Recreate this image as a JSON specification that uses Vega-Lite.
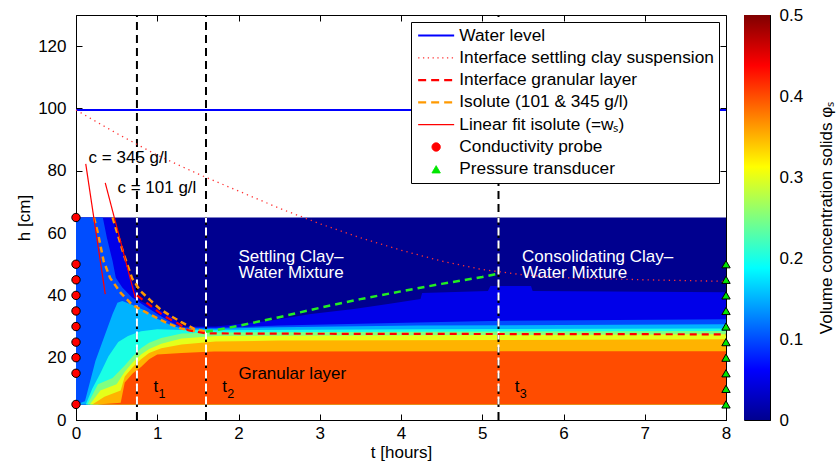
{
  "$schema": "https://vega.github.io/schema/vega-lite/v6.json",
  "background": "white",
  "padding": {"left": 15, "top": 5, "right": 0, "bottom": 0},
  "bounds": "flush",
  "spacing": 18,
  "resolve": {"legend": {"color": "independent", "fill": "independent"}},
  "config": {
    "font": "Liberation Sans",
    "view": {"stroke": "black", "strokeWidth": 1},
    "axis": {
      "grid": false,
      "labelFont": "Liberation Sans",
      "titleFont": "Liberation Sans",
      "labelFontSize": 17,
      "titleFontSize": 17,
      "titleFontWeight": "normal",
      "labelColor": "black",
      "titleColor": "black",
      "tickColor": "black",
      "domainColor": "black",
      "labelFlush": false,
      "labelOverlap": false,
      "labelBound": false
    }
  },
  "datasets": {
    "contours": [
      {"c": 0, "t": 0, "h": 65}, {"c": 0, "t": 8, "h": 65},
      {"c": 0.05, "t": 0, "h": 65}, {"c": 0.05, "t": 0.45, "h": 65}, {"c": 0.05, "t": 0.47, "h": 63},
      {"c": 0.05, "t": 0.58, "h": 53.3}, {"c": 0.05, "t": 0.7, "h": 43.7}, {"c": 0.05, "t": 0.79, "h": 38.2},
      {"c": 0.05, "t": 1.0, "h": 35.6}, {"c": 0.05, "t": 1.16, "h": 33.4}, {"c": 0.05, "t": 1.32, "h": 30.0},
      {"c": 0.05, "t": 1.72, "h": 30.0}, {"c": 0.05, "t": 2.36, "h": 31.8}, {"c": 0.05, "t": 2.89, "h": 34},
      {"c": 0.05, "t": 3.42, "h": 35.6}, {"c": 0.05, "t": 3.84, "h": 37.2}, {"c": 0.05, "t": 4.24, "h": 38.8},
      {"c": 0.05, "t": 4.26, "h": 40.8}, {"c": 0.05, "t": 5.07, "h": 41.4}, {"c": 0.05, "t": 5.1, "h": 43},
      {"c": 0.05, "t": 5.6, "h": 43}, {"c": 0.05, "t": 5.62, "h": 41.4}, {"c": 0.05, "t": 8, "h": 41},
      {"c": 0.1, "t": 0, "h": 65}, {"c": 0.1, "t": 0.33, "h": 65}, {"c": 0.1, "t": 0.38, "h": 58.5},
      {"c": 0.1, "t": 0.45, "h": 51}, {"c": 0.1, "t": 0.49, "h": 45.7}, {"c": 0.1, "t": 0.57, "h": 42.5},
      {"c": 0.1, "t": 0.69, "h": 39.3}, {"c": 0.1, "t": 0.81, "h": 37.2}, {"c": 0.1, "t": 1.0, "h": 34},
      {"c": 0.1, "t": 1.16, "h": 31.5}, {"c": 0.1, "t": 1.3, "h": 29.7}, {"c": 0.1, "t": 1.72, "h": 29.6},
      {"c": 0.1, "t": 2.5, "h": 30.3}, {"c": 0.1, "t": 4.2, "h": 31.3}, {"c": 0.1, "t": 5.1, "h": 31.8},
      {"c": 0.1, "t": 8, "h": 32.3},
      {"c": 0.15, "t": 0, "h": 5}, {"c": 0.15, "t": 0.11, "h": 6}, {"c": 0.15, "t": 0.24, "h": 19},
      {"c": 0.15, "t": 0.36, "h": 27.6}, {"c": 0.15, "t": 0.45, "h": 34}, {"c": 0.15, "t": 0.51, "h": 37.6},
      {"c": 0.15, "t": 0.57, "h": 38.2}, {"c": 0.15, "t": 0.69, "h": 37}, {"c": 0.15, "t": 0.86, "h": 35},
      {"c": 0.15, "t": 1.0, "h": 32.5}, {"c": 0.15, "t": 1.16, "h": 30.5}, {"c": 0.15, "t": 1.3, "h": 29.4},
      {"c": 0.15, "t": 1.72, "h": 29.3}, {"c": 0.15, "t": 2.5, "h": 29.8}, {"c": 0.15, "t": 4.2, "h": 30.3},
      {"c": 0.15, "t": 8, "h": 30.7},
      {"c": 0.2, "t": 0.12, "h": 5}, {"c": 0.2, "t": 0.2, "h": 10}, {"c": 0.2, "t": 0.3, "h": 15},
      {"c": 0.2, "t": 0.4, "h": 20.5}, {"c": 0.2, "t": 0.52, "h": 25}, {"c": 0.2, "t": 0.64, "h": 27},
      {"c": 0.2, "t": 0.8, "h": 28.5}, {"c": 0.2, "t": 1.0, "h": 29.1}, {"c": 0.2, "t": 1.3, "h": 28.9},
      {"c": 0.2, "t": 1.72, "h": 28.8}, {"c": 0.2, "t": 4.2, "h": 29.1}, {"c": 0.2, "t": 8, "h": 29.4},
      {"c": 0.25, "t": 0.14, "h": 5}, {"c": 0.25, "t": 0.27, "h": 11.5}, {"c": 0.25, "t": 0.45, "h": 13.5},
      {"c": 0.25, "t": 0.6, "h": 17.5}, {"c": 0.25, "t": 0.7, "h": 20.5}, {"c": 0.25, "t": 0.8, "h": 23},
      {"c": 0.25, "t": 0.9, "h": 24.8}, {"c": 0.25, "t": 1.05, "h": 26.3}, {"c": 0.25, "t": 1.3, "h": 27.8},
      {"c": 0.25, "t": 1.72, "h": 28.1}, {"c": 0.25, "t": 8, "h": 28.6},
      {"c": 0.3, "t": 0.17, "h": 5}, {"c": 0.3, "t": 0.3, "h": 9.5}, {"c": 0.3, "t": 0.5, "h": 11.5},
      {"c": 0.3, "t": 0.6, "h": 15.5}, {"c": 0.3, "t": 0.7, "h": 18.5}, {"c": 0.3, "t": 0.8, "h": 21},
      {"c": 0.3, "t": 0.9, "h": 22.8}, {"c": 0.3, "t": 1.05, "h": 24.5}, {"c": 0.3, "t": 1.3, "h": 26.2},
      {"c": 0.3, "t": 1.72, "h": 27.0}, {"c": 0.3, "t": 8, "h": 27.5},
      {"c": 0.35, "t": 0.2, "h": 5}, {"c": 0.35, "t": 0.35, "h": 7.5}, {"c": 0.35, "t": 0.55, "h": 9.5},
      {"c": 0.35, "t": 0.6, "h": 14}, {"c": 0.35, "t": 0.7, "h": 17}, {"c": 0.35, "t": 0.8, "h": 19.5},
      {"c": 0.35, "t": 0.9, "h": 21.5}, {"c": 0.35, "t": 1.05, "h": 23}, {"c": 0.35, "t": 1.3, "h": 24.2},
      {"c": 0.35, "t": 1.72, "h": 25.2}, {"c": 0.35, "t": 2.5, "h": 25.5}, {"c": 0.35, "t": 8, "h": 25.9},
      {"c": 0.4, "t": 0.26, "h": 5}, {"c": 0.4, "t": 0.55, "h": 5.5}, {"c": 0.4, "t": 0.6, "h": 12},
      {"c": 0.4, "t": 0.7, "h": 15}, {"c": 0.4, "t": 0.8, "h": 17}, {"c": 0.4, "t": 0.9, "h": 19.5},
      {"c": 0.4, "t": 1.0, "h": 21}, {"c": 0.4, "t": 1.3, "h": 21.5}, {"c": 0.4, "t": 1.7, "h": 22},
      {"c": 0.4, "t": 8, "h": 22.1}
    ],
    "phases": [
      {"t": 0.75, "sub": "1"},
      {"t": 1.6, "sub": "2"},
      {"t": 5.2, "sub": "3"}
    ],
    "water": [
      {"series": "Water level", "t": 0, "h": 99.5},
      {"series": "Water level", "t": 8, "h": 99.5}
    ],
    "settling": [
      {"series": "Interface settling clay suspension", "t": 0, "h": 99.5},
      {"series": "Interface settling clay suspension", "t": 0.5, "h": 92},
      {"series": "Interface settling clay suspension", "t": 1, "h": 85},
      {"series": "Interface settling clay suspension", "t": 1.5, "h": 79},
      {"series": "Interface settling clay suspension", "t": 2, "h": 73.5},
      {"series": "Interface settling clay suspension", "t": 2.5, "h": 68},
      {"series": "Interface settling clay suspension", "t": 3, "h": 63},
      {"series": "Interface settling clay suspension", "t": 3.5, "h": 58.5},
      {"series": "Interface settling clay suspension", "t": 4, "h": 54.5},
      {"series": "Interface settling clay suspension", "t": 4.5, "h": 51},
      {"series": "Interface settling clay suspension", "t": 5, "h": 48.3},
      {"series": "Interface settling clay suspension", "t": 5.5, "h": 46.6},
      {"series": "Interface settling clay suspension", "t": 6, "h": 45.7},
      {"series": "Interface settling clay suspension", "t": 7, "h": 45},
      {"series": "Interface settling clay suspension", "t": 8, "h": 44.5}
    ],
    "granular": [
      {"series": "Interface granular layer", "t": 0.75, "h": 40},
      {"series": "Interface granular layer", "t": 0.92, "h": 36.6},
      {"series": "Interface granular layer", "t": 1.08, "h": 33.4},
      {"series": "Interface granular layer", "t": 1.25, "h": 31.1},
      {"series": "Interface granular layer", "t": 1.38, "h": 28.8},
      {"series": "Interface granular layer", "t": 1.6, "h": 27.8},
      {"series": "Interface granular layer", "t": 2.5, "h": 27.7},
      {"series": "Interface granular layer", "t": 8, "h": 27.5}
    ],
    "isolutes": [
      {"series": "Isolute (101 & 345 g/l)", "conc": 345, "t": 0.22, "h": 65},
      {"series": "Isolute (101 & 345 g/l)", "conc": 345, "t": 0.27, "h": 60},
      {"series": "Isolute (101 & 345 g/l)", "conc": 345, "t": 0.34, "h": 51},
      {"series": "Isolute (101 & 345 g/l)", "conc": 345, "t": 0.42, "h": 45.6},
      {"series": "Isolute (101 & 345 g/l)", "conc": 345, "t": 0.55, "h": 40.8},
      {"series": "Isolute (101 & 345 g/l)", "conc": 345, "t": 0.69, "h": 37},
      {"series": "Isolute (101 & 345 g/l)", "conc": 345, "t": 0.88, "h": 34.3},
      {"series": "Isolute (101 & 345 g/l)", "conc": 345, "t": 1.12, "h": 31.1},
      {"series": "Isolute (101 & 345 g/l)", "conc": 345, "t": 1.29, "h": 29.4},
      {"series": "Isolute (101 & 345 g/l)", "conc": 345, "t": 1.45, "h": 28.6},
      {"series": "Isolute (101 & 345 g/l)", "conc": 345, "t": 1.6, "h": 28.3},
      {"series": "Isolute (101 & 345 g/l)", "conc": 101, "t": 0.45, "h": 65},
      {"series": "Isolute (101 & 345 g/l)", "conc": 101, "t": 0.52, "h": 59},
      {"series": "Isolute (101 & 345 g/l)", "conc": 101, "t": 0.59, "h": 53},
      {"series": "Isolute (101 & 345 g/l)", "conc": 101, "t": 0.69, "h": 45.5},
      {"series": "Isolute (101 & 345 g/l)", "conc": 101, "t": 0.79, "h": 41.5},
      {"series": "Isolute (101 & 345 g/l)", "conc": 101, "t": 0.92, "h": 38.3},
      {"series": "Isolute (101 & 345 g/l)", "conc": 101, "t": 1.04, "h": 35.5},
      {"series": "Isolute (101 & 345 g/l)", "conc": 101, "t": 1.16, "h": 33.5},
      {"series": "Isolute (101 & 345 g/l)", "conc": 101, "t": 1.29, "h": 31.5},
      {"series": "Isolute (101 & 345 g/l)", "conc": 101, "t": 1.45, "h": 29.3},
      {"series": "Isolute (101 & 345 g/l)", "conc": 101, "t": 1.6, "h": 28.3}
    ],
    "fits": [
      {"series": "Linear fit isolute (=wₛ)", "conc": 345, "t": 0.12, "h": 82.2},
      {"series": "Linear fit isolute (=wₛ)", "conc": 345, "t": 0.36, "h": 40.4},
      {"series": "Linear fit isolute (=wₛ)", "conc": 101, "t": 0.36, "h": 76.1},
      {"series": "Linear fit isolute (=wₛ)", "conc": 101, "t": 0.73, "h": 39.2}
    ],
    "front": [
      {"t": 1.6, "h": 28.3}, {"t": 2.0, "h": 30.2}, {"t": 2.5, "h": 33}, {"t": 3.0, "h": 36},
      {"t": 3.5, "h": 38.8}, {"t": 4.0, "h": 41.3}, {"t": 4.5, "h": 43.7}, {"t": 5.0, "h": 45.9},
      {"t": 5.2, "h": 47}
    ],
    "probes": [
      {"series": "Conductivity probe", "t": 0, "h": 5},
      {"series": "Conductivity probe", "t": 0, "h": 15},
      {"series": "Conductivity probe", "t": 0, "h": 20},
      {"series": "Conductivity probe", "t": 0, "h": 25},
      {"series": "Conductivity probe", "t": 0, "h": 30},
      {"series": "Conductivity probe", "t": 0, "h": 35},
      {"series": "Conductivity probe", "t": 0, "h": 40},
      {"series": "Conductivity probe", "t": 0, "h": 45},
      {"series": "Conductivity probe", "t": 0, "h": 50},
      {"series": "Conductivity probe", "t": 0, "h": 65}
    ],
    "transducers": [
      {"series": "Pressure transducer", "t": 8, "h": 5},
      {"series": "Pressure transducer", "t": 8, "h": 10},
      {"series": "Pressure transducer", "t": 8, "h": 15},
      {"series": "Pressure transducer", "t": 8, "h": 20},
      {"series": "Pressure transducer", "t": 8, "h": 25},
      {"series": "Pressure transducer", "t": 8, "h": 30},
      {"series": "Pressure transducer", "t": 8, "h": 35},
      {"series": "Pressure transducer", "t": 8, "h": 40},
      {"series": "Pressure transducer", "t": 8, "h": 45},
      {"series": "Pressure transducer", "t": 8, "h": 50}
    ],
    "notes": [
      {"t": 0.155, "h": 84, "txt": "c = 345 g/l"},
      {"t": 0.51, "h": 74.5, "txt": "c = 101 g/l"},
      {"t": 2.0, "h": 14.8, "txt": "Granular layer"}
    ],
    "zones": [
      {"t": 2.0, "h": 52.3, "txt": ["Settling Clay–", "Water Mixture"]},
      {"t": 5.49, "h": 52.3, "txt": ["Consolidating Clay–", "Water Mixture"]}
    ],
    "phaseLabels": [
      {"t": 0.955, "h": 10.6, "sub": "1"},
      {"t": 1.8, "h": 10.6, "sub": "2"},
      {"t": 5.4, "h": 10.6, "sub": "3"}
    ]
  },
  "hconcat": [
    {
      "width": 650,
      "height": 405,
      "resolve": {"axis": {"x": "independent", "y": "independent"}},
      "layer": [
        {
          "data": {"name": "contours"},
          "mark": {"type": "area", "interpolate": "linear"},
          "encoding": {
            "x": {"field": "t", "type": "quantitative",
                  "scale": {"domain": [0, 8], "nice": false},
                  "axis": {"title": "t [hours]", "values": [0, 1, 2, 3, 4, 5, 6, 7, 8], "tickSize": -6, "labelPadding": 11, "titlePadding": 3}},
            "y": {"field": "h", "type": "quantitative", "stack": null,
                  "scale": {"domain": [0, 130], "nice": false},
                  "axis": {"title": "h [cm]", "values": [0, 20, 40, 60, 80, 100, 120], "tickSize": -6, "labelPadding": 16, "titlePadding": 4}},
            "y2": {"datum": 5},
            "fill": {"field": "c", "type": "quantitative", "legend": null,
                     "scale": {"domain": [0, 0.0625, 0.1875, 0.3125, 0.4375, 0.5], "interpolate": "rgb",
                               "range": ["#00008f", "#0000ff", "#00ffff", "#ffff00", "#ff0000", "#800000"]}}
          }
        },
        {
          "data": {"name": "phases"},
          "mark": {"type": "rule", "color": "black", "strokeWidth": 2, "strokeDash": [8, 5]},
          "encoding": {
            "x": {"field": "t", "type": "quantitative", "axis": null},
            "y": {"datum": 0, "axis": null},
            "y2": {"datum": 130}
          }
        },
        {
          "data": {"name": "phases"},
          "mark": {"type": "rule", "color": "white", "strokeWidth": 2, "strokeDash": [8, 5]},
          "encoding": {
            "x": {"field": "t", "type": "quantitative", "axis": null},
            "y": {"datum": 5, "axis": null},
            "y2": {"datum": 65}
          }
        },
        {
          "data": {"name": "water"},
          "mark": {"type": "line", "strokeWidth": 2},
          "encoding": {
            "x": {"field": "t", "type": "quantitative",
                  "axis": {"orient": "top", "labels": false, "title": null, "domain": false, "values": [0, 1, 2, 3, 4, 5, 6, 7, 8], "tickSize": -6}},
            "y": {"field": "h", "type": "quantitative",
                  "axis": {"orient": "right", "labels": false, "title": null, "domain": false, "values": [0, 20, 40, 60, 80, 100, 120], "tickSize": -6}},
            "color": {
              "field": "series", "type": "nominal",
              "scale": {
                "domain": ["Water level", "Interface settling clay suspension", "Interface granular layer", "Isolute (101 & 345 g/l)", "Linear fit isolute (=wₛ)", "Conductivity probe", "Pressure transducer"],
                "range": ["#0000ff", "#ff3333", "#ff0000", "#ff9900", "#ff0000", "#ff0000", "#00e600"]
              },
              "legend": {
                "title": null,
                "orient": "top-right",
                "offset": 7,
                "padding": 5,
                "fillColor": "white",
                "strokeColor": "black",
                "labelFont": "Liberation Sans",
                "labelFontSize": 17.3,
                "labelColor": "black",
                "labelLimit": 400,
                "labelOffset": 14.5,
                "symbolSize": 100,
                "symbolType": "stroke",
                "symbolOffset": 11.5,
                "clipHeight": 17,
                "rowPadding": 4.3,
                "encode": {
                  "symbols": {
                    "update": {
                      "shape": {"signal": "datum.value === 'Conductivity probe' ? 'circle' : datum.value === 'Pressure transducer' ? 'triangle-up' : 'stroke'"},
                      "size": {"signal": "(datum.value === 'Conductivity probe' || datum.value === 'Pressure transducer') ? 70 : 1296"},
                      "fill": {"signal": "datum.value === 'Conductivity probe' ? '#ff0000' : datum.value === 'Pressure transducer' ? '#00e600' : 'transparent'"},
                      "stroke": {"signal": "(datum.value === 'Conductivity probe' || datum.value === 'Pressure transducer') ? 'black' : datum.value === 'Water level' ? '#0000ff' : datum.value === 'Isolute (101 & 345 g/l)' ? '#ff9900' : datum.value === 'Interface settling clay suspension' ? '#ff3333' : '#ff0000'"},
                      "strokeWidth": {"signal": "(datum.value === 'Conductivity probe' || datum.value === 'Pressure transducer') ? 1 : datum.value === 'Linear fit isolute (=wₛ)' ? 1.2 : datum.value === 'Interface settling clay suspension' ? 1.3 : 2.2"},
                      "strokeDash": {"signal": "datum.value === 'Interface settling clay suspension' ? [1.3, 3.5] : (datum.value === 'Interface granular layer' || datum.value === 'Isolute (101 & 345 g/l)') ? [8, 5] : [1, 0]"},
                      "opacity": {"value": 1}
                    }
                  }
                }
              }
            }
          }
        },
        {
          "data": {"name": "settling"},
          "mark": {"type": "line", "strokeWidth": 1.3, "strokeDash": [1.3, 4]},
          "encoding": {
            "x": {"field": "t", "type": "quantitative", "axis": null},
            "y": {"field": "h", "type": "quantitative", "axis": null},
            "color": {"field": "series", "type": "nominal"}
          }
        },
        {
          "data": {"name": "isolutes"},
          "mark": {"type": "line", "strokeWidth": 2.5, "strokeDash": [6, 4]},
          "encoding": {
            "x": {"field": "t", "type": "quantitative", "axis": null},
            "y": {"field": "h", "type": "quantitative", "axis": null},
            "detail": {"field": "conc", "type": "nominal"},
            "color": {"field": "series", "type": "nominal"}
          }
        },
        {
          "data": {"name": "granular"},
          "mark": {"type": "line", "strokeWidth": 2.2, "strokeDash": [7, 5]},
          "encoding": {
            "x": {"field": "t", "type": "quantitative", "axis": null},
            "y": {"field": "h", "type": "quantitative", "axis": null},
            "color": {"field": "series", "type": "nominal"}
          }
        },
        {
          "data": {"name": "front"},
          "mark": {"type": "line", "color": "#22ee22", "strokeWidth": 2.5, "strokeDash": [7, 5]},
          "encoding": {
            "x": {"field": "t", "type": "quantitative", "axis": null},
            "y": {"field": "h", "type": "quantitative", "axis": null}
          }
        },
        {
          "data": {"name": "fits"},
          "mark": {"type": "line", "strokeWidth": 1.2},
          "encoding": {
            "x": {"field": "t", "type": "quantitative", "axis": null},
            "y": {"field": "h", "type": "quantitative", "axis": null},
            "detail": {"field": "conc", "type": "nominal"},
            "color": {"field": "series", "type": "nominal"}
          }
        },
        {
          "data": {"name": "notes"},
          "mark": {"type": "text", "align": "left", "baseline": "middle", "fontSize": 17, "color": "black"},
          "encoding": {
            "x": {"field": "t", "type": "quantitative", "axis": null},
            "y": {"field": "h", "type": "quantitative", "axis": null},
            "text": {"field": "txt"}
          }
        },
        {
          "data": {"name": "zones"},
          "mark": {"type": "text", "align": "left", "baseline": "middle", "fontSize": 17, "lineHeight": 15.5, "color": "white"},
          "encoding": {
            "x": {"field": "t", "type": "quantitative", "axis": null},
            "y": {"field": "h", "type": "quantitative", "axis": null},
            "text": {"field": "txt"}
          }
        },
        {
          "data": {"name": "phaseLabels"},
          "mark": {"type": "text", "align": "left", "baseline": "middle", "fontSize": 17, "color": "black", "text": "t"},
          "encoding": {
            "x": {"field": "t", "type": "quantitative", "axis": null},
            "y": {"field": "h", "type": "quantitative", "axis": null}
          }
        },
        {
          "data": {"name": "phaseLabels"},
          "mark": {"type": "text", "align": "left", "baseline": "middle", "fontSize": 12.5, "color": "black", "dx": 5, "dy": 7},
          "encoding": {
            "x": {"field": "t", "type": "quantitative", "axis": null},
            "y": {"field": "h", "type": "quantitative", "axis": null},
            "text": {"field": "sub"}
          }
        },
        {
          "data": {"name": "probes"},
          "mark": {"type": "point", "shape": "circle", "filled": true, "size": 70, "stroke": "black", "strokeWidth": 1, "opacity": 1},
          "encoding": {
            "x": {"field": "t", "type": "quantitative", "axis": null},
            "y": {"field": "h", "type": "quantitative", "axis": null},
            "color": {"field": "series", "type": "nominal"}
          }
        },
        {
          "data": {"name": "transducers"},
          "mark": {"type": "point", "shape": "triangle-up", "filled": true, "size": 70, "stroke": "black", "strokeWidth": 1, "opacity": 1},
          "encoding": {
            "x": {"field": "t", "type": "quantitative", "axis": null},
            "y": {"field": "h", "type": "quantitative", "axis": null},
            "color": {"field": "series", "type": "nominal"}
          }
        }
      ]
    },
    {
      "width": 26,
      "height": 405,
      "data": {"values": [{"lo": 0, "hi": 0.5}]},
      "mark": {
        "type": "rect",
        "color": {
          "gradient": "linear",
          "x1": 0, "y1": 1, "x2": 0, "y2": 0,
          "stops": [
            {"offset": 0, "color": "#00008f"},
            {"offset": 0.125, "color": "#0000ff"},
            {"offset": 0.375, "color": "#00ffff"},
            {"offset": 0.625, "color": "#ffff00"},
            {"offset": 0.875, "color": "#ff0000"},
            {"offset": 1, "color": "#800000"}
          ]
        }
      },
      "encoding": {
        "x": {"value": 0},
        "x2": {"value": "width"},
        "y": {"field": "lo", "type": "quantitative",
              "scale": {"domain": [0, 0.5], "nice": false},
              "axis": {"orient": "right", "values": [0, 0.1, 0.2, 0.3, 0.4, 0.5], "format": ".1~f", "tickSize": -5, "labelPadding": 14,
                       "title": "Volume concentration solids φₛ", "titleAngle": 270, "titleBaseline": "top", "titlePadding": 16}},
        "y2": {"field": "hi"}
      }
    }
  ]
}
